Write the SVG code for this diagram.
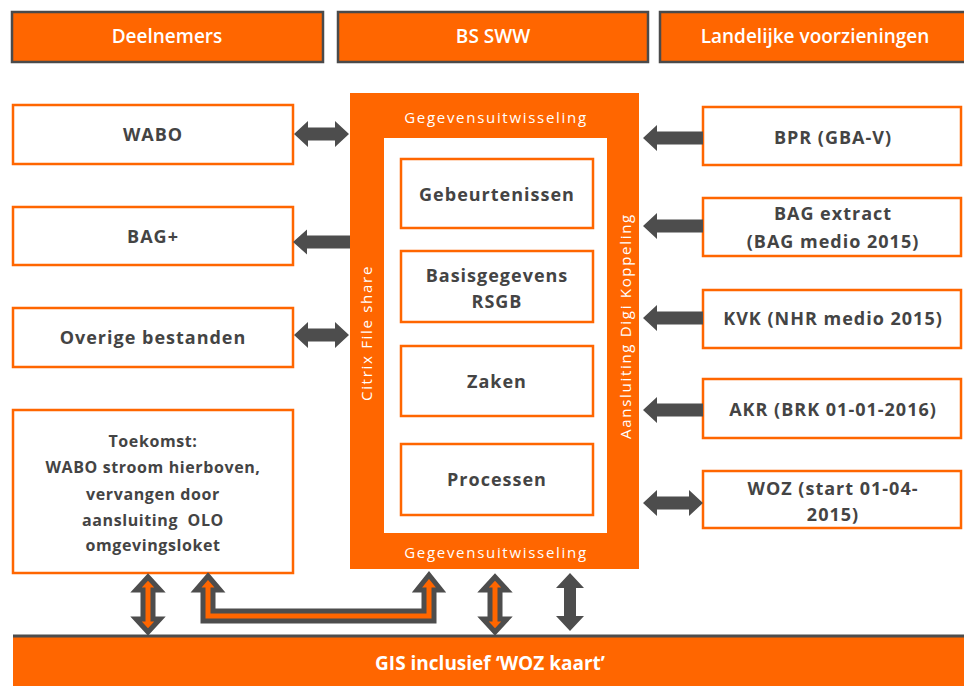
<svg xmlns="http://www.w3.org/2000/svg" width="964" height="686" viewBox="0 0 964 686">
<style>
.hdr{fill:#FF6600;stroke:#4a4a4a;stroke-width:2.5}
.hdrt{font-family:"Open Sans",sans-serif;font-weight:600;font-size:19px;fill:#fff;text-anchor:middle}
.box{fill:#fff;stroke:#FF6600;stroke-width:2.5}
.bt{font-family:"Open Sans",sans-serif;font-weight:700;font-size:18px;fill:#444;text-anchor:middle;letter-spacing:1px}
.tt{font-family:"Open Sans",sans-serif;font-weight:700;font-size:16px;fill:#444;text-anchor:middle;letter-spacing:0.6px}
.ot{font-family:"Open Sans",sans-serif;font-size:15px;fill:#fff;text-anchor:middle;letter-spacing:1.7px}
.ga{fill:#4D4D4D}
.oa{fill:#FF6600;stroke:#4D4D4D;stroke-width:5;stroke-linejoin:miter}
</style>
<rect width="964" height="686" fill="#fff"/>

<g id="hdr-deelnemers"><rect class="hdr" x="12" y="12" width="311" height="50"/><text class="hdrt" x="167" y="43">Deelnemers</text></g>
<g id="hdr-bsww"><rect class="hdr" x="338" y="12" width="310" height="50"/><text class="hdrt" x="493" y="43">BS SWW</text></g>
<g id="hdr-landelijk"><rect class="hdr" x="660" y="12" width="306" height="50"/><text class="hdrt" x="815" y="43">Landelijke voorzieningen</text></g>

<g id="bsww">
<rect x="350" y="93" width="289" height="476" fill="#FF6600"/>
<rect x="384" y="138" width="223" height="395" fill="#fff"/>
<text class="ot" x="496" y="123">Gegevensuitwisseling</text>
<text class="ot" x="496" y="558">Gegevensuitwisseling</text>
<text class="ot" transform="translate(372,333) rotate(-90)">Citrix File share</text>
<text class="ot" transform="translate(631,326) rotate(-90)">Aansluiting Digi Koppeling</text>
</g>
<g id="gebeurtenissen"><rect class="box" x="401" y="159" width="192" height="69"/><text class="bt" x="497" y="201">Gebeurtenissen</text></g>
<g id="basisgegevens"><rect class="box" x="401" y="251" width="192" height="71"/><text class="bt" x="497" y="282">Basisgegevens</text><text class="bt" x="497" y="308">RSGB</text></g>
<g id="zaken"><rect class="box" x="401" y="346" width="192" height="70"/><text class="bt" x="497" y="388">Zaken</text></g>
<g id="processen"><rect class="box" x="401" y="444" width="192" height="71"/><text class="bt" x="497" y="486">Processen</text></g>

<g id="wabo"><rect class="box" x="13" y="105" width="280" height="59"/><text class="bt" x="153" y="141">WABO</text></g>
<g id="bagplus"><rect class="box" x="13" y="207" width="280" height="58"/><text class="bt" x="153" y="243">BAG+</text></g>
<g id="overige"><rect class="box" x="13" y="308" width="280" height="59"/><text class="bt" x="153" y="344">Overige bestanden</text></g>
<g id="toekomst"><rect class="box" x="13" y="410" width="280" height="163"/>
<text class="tt" x="153" y="447">Toekomst:</text>
<text class="tt" x="153" y="473">WABO stroom hierboven,</text>
<text class="tt" x="153" y="500">vervangen door</text>
<text class="tt" x="153" y="526">aansluiting&#160; OLO</text>
<text class="tt" x="153" y="551">omgevingsloket</text>
</g>

<g id="bpr"><rect class="box" x="703" y="107" width="258" height="58"/><text class="bt" x="833" y="144">BPR (GBA-V)</text></g>
<g id="bagextract"><rect class="box" x="703" y="198" width="258" height="58"/><text class="bt" x="833" y="220">BAG extract</text><text class="bt" x="833" y="248">(BAG medio 2015)</text></g>
<g id="kvk"><rect class="box" x="703" y="290" width="258" height="58"/><text class="bt" x="833" y="325">KVK (NHR medio 2015)</text></g>
<g id="akr"><rect class="box" x="703" y="379" width="258" height="59"/><text class="bt" x="833" y="416">AKR (BRK 01-01-2016)</text></g>
<g id="woz"><rect class="box" x="703" y="471" width="258" height="57"/><text class="bt" x="833" y="495">WOZ (start 01-04-</text><text class="bt" x="833" y="521">2015)</text></g>

<g id="gis"><rect x="13" y="636" width="951" height="50" fill="#FF6600"/><line x1="13" y1="636" x2="964" y2="636" stroke="#4D4D4D" stroke-width="3"/><text x="490" y="670" font-family="'Open Sans',sans-serif" font-weight="700" font-size="19" fill="#fff" text-anchor="middle">GIS inclusief ‘WOZ kaart’</text></g>

<g id="connectors">
<polygon class="ga" points="294,134 308,121 308,127.5 335,127.5 335,121 349,134 335,147 335,140.5 308,140.5 308,147"/>
<polygon class="ga" points="293,242 307,229.5 307,235.5 350,235.5 350,248.5 307,248.5 307,254.5"/>
<polygon class="ga" points="294,335 308,322 308,328.5 335,328.5 335,322 349,335 335,348 335,341.5 308,341.5 308,348"/>

<polygon class="ga" points="643,138 657,125 657,131.5 703,131.5 703,144.5 657,144.5 657,151"/>
<polygon class="ga" points="643,226 657,213 657,219.5 703,219.5 703,232.5 657,232.5 657,239"/>
<polygon class="ga" points="643,318 657,305 657,311.5 703,311.5 703,324.5 657,324.5 657,331"/>
<polygon class="ga" points="643,410 657,397 657,403.5 703,403.5 703,416.5 657,416.5 657,423"/>
<polygon class="ga" points="643,503 657,490 657,496.5 689,496.5 689,490 703,503 689,516 689,509.5 657,509.5 657,516"/>

<polygon class="oa" points="148,577 160,590 153,590 153,619 160,619 148,632 136,619 143,619 143,590 136,590"/>
<polygon class="oa" points="208,576 220,590 213,590 213,611 424,611 424,590 417,590 429,575 441,590 434,590 434,621 203,621 203,590 196,590"/>
<polygon class="oa" points="495,577 507,590 500,590 500,619 507,619 495,632 483,619 490,619 490,590 483,590"/>
<polygon class="ga" points="570,573 584,588 576,588 576,616 584,616 570,631 556,616 564,616 564,588 556,588"/>
</g>
</svg>
